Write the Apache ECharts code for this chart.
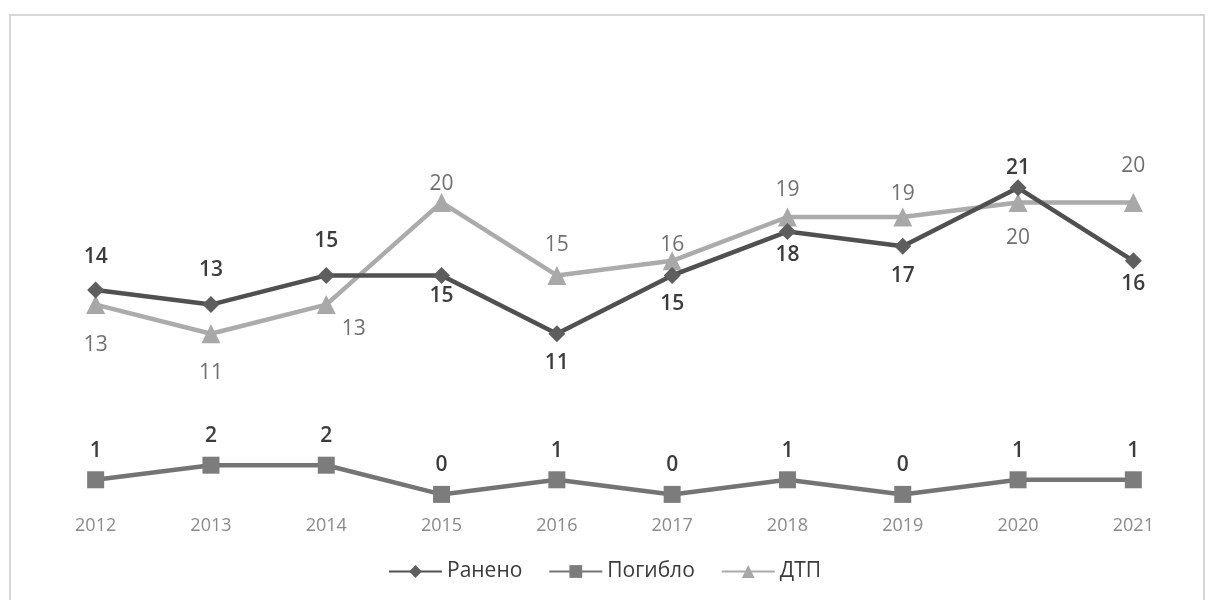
<!DOCTYPE html>
<html><head><meta charset="utf-8">
<script src="https://cdn.jsdelivr.net/npm/echarts@6/dist/echarts.min.js"></script>
<style>html,body{margin:0;padding:0;background:#fff}#c{width:1209px;height:600px}</style>
</head><body><div id="c"></div>
<script>
const years = ['2012','2013','2014','2015','2016','2017','2018','2019','2020','2021'];
const raneno = [14,13,15,15,11,15,18,17,21,16];
const pogiblo = [1,2,2,0,1,0,1,0,1,1];
const dtp = [13,11,13,20,15,16,19,19,20,20];

// label placement (side, gap) per point
const ranenoPos = ['top','top','top','bottom','bottom','bottom','bottom','bottom','top','bottom'];
const ranenoGap = [14,16,15,2,10,10,4,11,1,4];
const dtpPos = ['bottom','bottom','right','top','top','top','top','top','bottom','top'];
const dtpGap = [20,19,4,-2,10,-4,7,3,16,16];

const font = '"Open Sans", "Liberation Sans", sans-serif';
function items(vals, pos, gap){
  return vals.map((v,i)=>{
    const lab = {position:pos[i], distance:gap[i]};
    if (pos[i]==='right') lab.offset = [2, 24];
    return {value:v, label:lab};
  });
}

const chart = echarts.init(document.getElementById('c'));
chart.setOption({
  backgroundColor:'#ffffff',
  animation:false,
  graphic:[{type:'rect', shape:{x:10,y:15,width:1194,height:600}, style:{fill:'none', stroke:'#d6d6d6', lineWidth:2}}],
  grid:{left:38, right:18, top:144, bottom:91},
  xAxis:{type:'category', data:years, boundaryGap:true,
    axisLine:{show:false}, axisTick:{show:false},
    axisLabel:{color:'#8a8a8a', fontSize:18, fontFamily:font, margin:8}},
  yAxis:{type:'value', min:-1, max:24, show:false, splitLine:{show:false}},
  legend:{bottom:13, left:'center', itemWidth:53, itemHeight:16, itemGap:26,
    textStyle:{color:'#3a3a3a', fontSize:21, fontFamily:font},
    data:['Ранено','Погибло','ДТП']},
  series:[
    {name:'Ранено', type:'line', data:items(raneno, ranenoPos, ranenoGap), symbol:'diamond', symbolSize:17,
     lineStyle:{color:'#505050', width:4.5}, itemStyle:{color:'#5e5e5e'},
     label:{show:true, color:'#3c3c3c', fontSize:21, fontWeight:600, fontFamily:font}, z:3},
    {name:'Погибло', type:'line', data:pogiblo, symbol:'rect', symbolSize:17,
     lineStyle:{color:'#747474', width:4.5}, itemStyle:{color:'#7c7c7c'},
     label:{show:true, position:'top', color:'#3c3c3c', fontSize:21, fontWeight:600, fontFamily:font, distance:10}},
    {name:'ДТП', type:'line', data:items(dtp, dtpPos, dtpGap), symbol:'triangle', symbolSize:19,
     lineStyle:{color:'#ababab', width:4.5}, itemStyle:{color:'#a8a8a8'},
     label:{show:true, color:'#707070', fontSize:21, fontFamily:font}, z:2}
  ]
});
</script></body></html>
